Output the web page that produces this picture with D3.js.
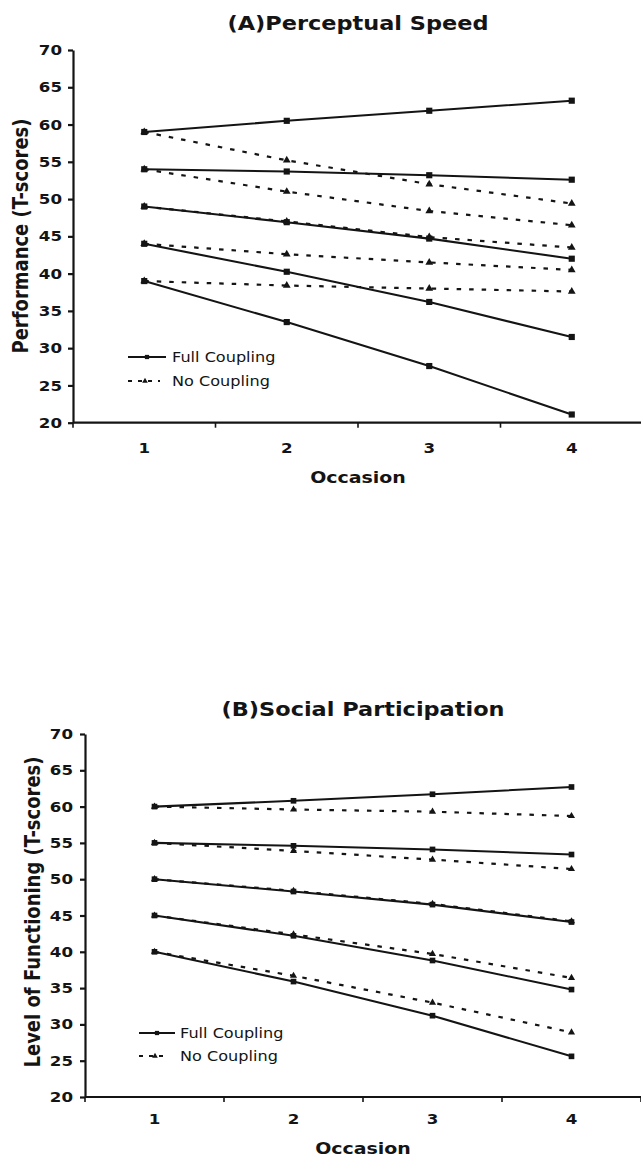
<!DOCTYPE html>
<html>
<head>
<meta charset="utf-8">
<script src="https://cdn.jsdelivr.net/npm/d3@7"></script>
<style>
  html, body { margin: 0; padding: 0; background: #fff; }
  svg { display: block; }
</style>
</head>
<body>
<svg id="chart" width="641" height="1160"></svg>
<script>
// ---------- data ----------
const occasions = [1, 2, 3, 4];
const yTicks = [20, 25, 30, 35, 40, 45, 50, 55, 60, 65, 70];
const seriesNames = ["Full Coupling", "No Coupling"];

// (A) Perceptual Speed
const speedFull = [
  [59, 60.5, 61.85, 63.2],
  [54, 53.7, 53.2, 52.6],
  [49, 46.9, 44.7, 42.0],
  [44, 40.25, 36.2, 31.5],
  [39, 33.5, 27.6, 21.1]
];
const speedNone = [
  [59, 55.2, 52.0, 49.4],
  [54, 51.0, 48.4, 46.5],
  [49, 47.0, 44.9, 43.5],
  [44, 42.6, 41.5, 40.5],
  [39, 38.4, 38.0, 37.6]
];

// (B) Social Participation
const socialFull = [
  [60, 60.8, 61.7, 62.7],
  [55, 54.6, 54.1, 53.4],
  [50, 48.3, 46.5, 44.1],
  [45, 42.2, 38.8, 34.8],
  [40, 35.9, 31.2, 25.6]
];
const socialNone = [
  [60, 59.6, 59.3, 58.7],
  [55, 53.9, 52.7, 51.4],
  [50, 48.4, 46.6, 44.2],
  [45, 42.4, 39.7, 36.4],
  [40, 36.7, 33.0, 28.9]
];

// ---------- drawing ----------
const SX = 1.15;            // horizontal stretch of the scanned figure's text
const INK = "#141414";
const FONT = "'DejaVu Sans', Verdana, sans-serif";
const svg = d3.select("#chart");

function txt(g, x, y, s, o) {
  return g.append("text")
    .attr("transform", `translate(${x},${y}) scale(${SX},1)` + (o.rotate ? " rotate(-90)" : ""))
    .attr("text-anchor", o.anchor || "middle")
    .attr("dy", "0.35em")
    .style("font-family", FONT)
    .style("font-size", o.size + "px")
    .style("font-weight", o.weight || "normal")
    .style("fill", INK)
    .text(s);
}

function drawPanel(cfg) {
  const g = svg.append("g");
  const x = d3.scaleBand().domain(occasions).range([cfg.left, cfg.right]);
  const y = d3.scaleLinear().domain([20, 70]).range([cfg.y20, cfg.y70]);
  const cx = d => x(d) + x.bandwidth() / 2;
  const mid = (cfg.left + cfg.right) / 2;

  // title
  txt(g, mid, cfg.titleY, cfg.title, { size: 19.5, weight: "bold" });

  // y axis
  const ya = g.append("g")
    .attr("transform", `translate(${cfg.left},0)`)
    .call(d3.axisLeft(y).tickValues(yTicks).tickSize(5).tickSizeOuter(0).tickFormat(""));
  ya.selectAll("path, line").attr("stroke", INK).attr("stroke-width", 2.2);
  yTicks.forEach(v => txt(g, cfg.left - cfg.labGap, y(v), String(v), { size: 14.5, weight: "bold", anchor: "end" }));

  // x axis
  g.append("line")
    .attr("x1", cfg.left).attr("x2", cfg.right)
    .attr("y1", y(20)).attr("y2", y(20))
    .attr("stroke", INK).attr("stroke-width", 2.2);
  const edges = occasions.map(d => x(d)).concat([cfg.right]);
  g.selectAll(".xt").data(edges).enter().append("line")
    .attr("x1", d => d).attr("x2", d => d)
    .attr("y1", y(20)).attr("y2", y(20) + 5)
    .attr("stroke", INK).attr("stroke-width", 1.6);
  occasions.forEach(d => txt(g, cx(d), cfg.catY, String(d), { size: 14.5, weight: "bold" }));

  // axis titles
  txt(g, mid, cfg.occY, "Occasion", { size: 16.5, weight: "bold" });
  txt(g, cfg.ylabX, cfg.ylabY, cfg.ylab, { size: 18, weight: "bold", rotate: true });

  const line = d3.line().x((v, i) => cx(occasions[i])).y(v => y(v));
  const tri = d3.symbol(d3.symbolTriangle, cfg.triSize);
  const sq = d3.symbol(d3.symbolSquare, cfg.sqSize);

  // No coupling (dashed + triangles)
  cfg.none.forEach(s => {
    g.append("path").attr("d", line(s))
      .attr("fill", "none").attr("stroke", INK)
      .attr("stroke-width", 2.2).attr("stroke-dasharray", "4.5,8");
    s.forEach((v, i) => {
      g.append("path").attr("d", tri())
        .attr("transform", `translate(${cx(occasions[i])},${y(v)})`)
        .attr("fill", INK);
    });
  });

  // Full coupling (solid + squares)
  cfg.full.forEach(s => {
    g.append("path").attr("d", line(s))
      .attr("fill", "none").attr("stroke", INK).attr("stroke-width", 2.1);
    s.forEach((v, i) => {
      g.append("path").attr("d", sq())
        .attr("transform", `translate(${cx(occasions[i])},${y(v)})`)
        .attr("fill", INK);
    });
  });

  // legend
  const L = cfg.legend;
  g.append("line").attr("x1", L.x0).attr("x2", L.x1).attr("y1", L.y1).attr("y2", L.y1)
    .attr("stroke", INK).attr("stroke-width", 2);
  g.append("path").attr("d", d3.symbol(d3.symbolSquare, 18)())
    .attr("transform", `translate(${(L.x0 + L.x1) / 2},${L.y1})`).attr("fill", INK);
  g.append("line").attr("x1", L.x0).attr("x2", L.x1 - 6).attr("y1", L.y2).attr("y2", L.y2)
    .attr("stroke", INK).attr("stroke-width", 1.9).attr("stroke-dasharray", "4,6");
  g.append("path").attr("d", d3.symbol(d3.symbolTriangle, 14)())
    .attr("transform", `translate(${(L.x0 + L.x1) / 2 - 2},${L.y2})`).attr("fill", INK);
  txt(g, L.tx, L.y1, seriesNames[0], { size: 14, anchor: "start" });
  txt(g, L.tx, L.y2, seriesNames[1], { size: 14, anchor: "start" });
}

drawPanel({
  title: "(A)Perceptual Speed",
  ylab: "Performance (T-scores)",
  full: speedFull, none: speedNone,
  left: 73, right: 643, y70: 50, y20: 422.7,
  titleY: 23, catY: 448, occY: 477, ylabX: 21, ylabY: 236, labGap: 11,
  sqSize: 38, triSize: 26,
  legend: { x0: 128, x1: 166, tx: 172, y1: 357, y2: 381 }
});

drawPanel({
  title: "(B)Social Participation",
  ylab: "Level of Functioning (T-scores)",
  full: socialFull, none: socialNone,
  left: 85, right: 641, y70: 734, y20: 1097,
  titleY: 709, catY: 1119, occY: 1148, ylabX: 33, ylabY: 912, labGap: 12,
  sqSize: 32, triSize: 22,
  legend: { x0: 139, x1: 175, tx: 180, y1: 1033, y2: 1056 }
});
</script>
</body>
</html>
